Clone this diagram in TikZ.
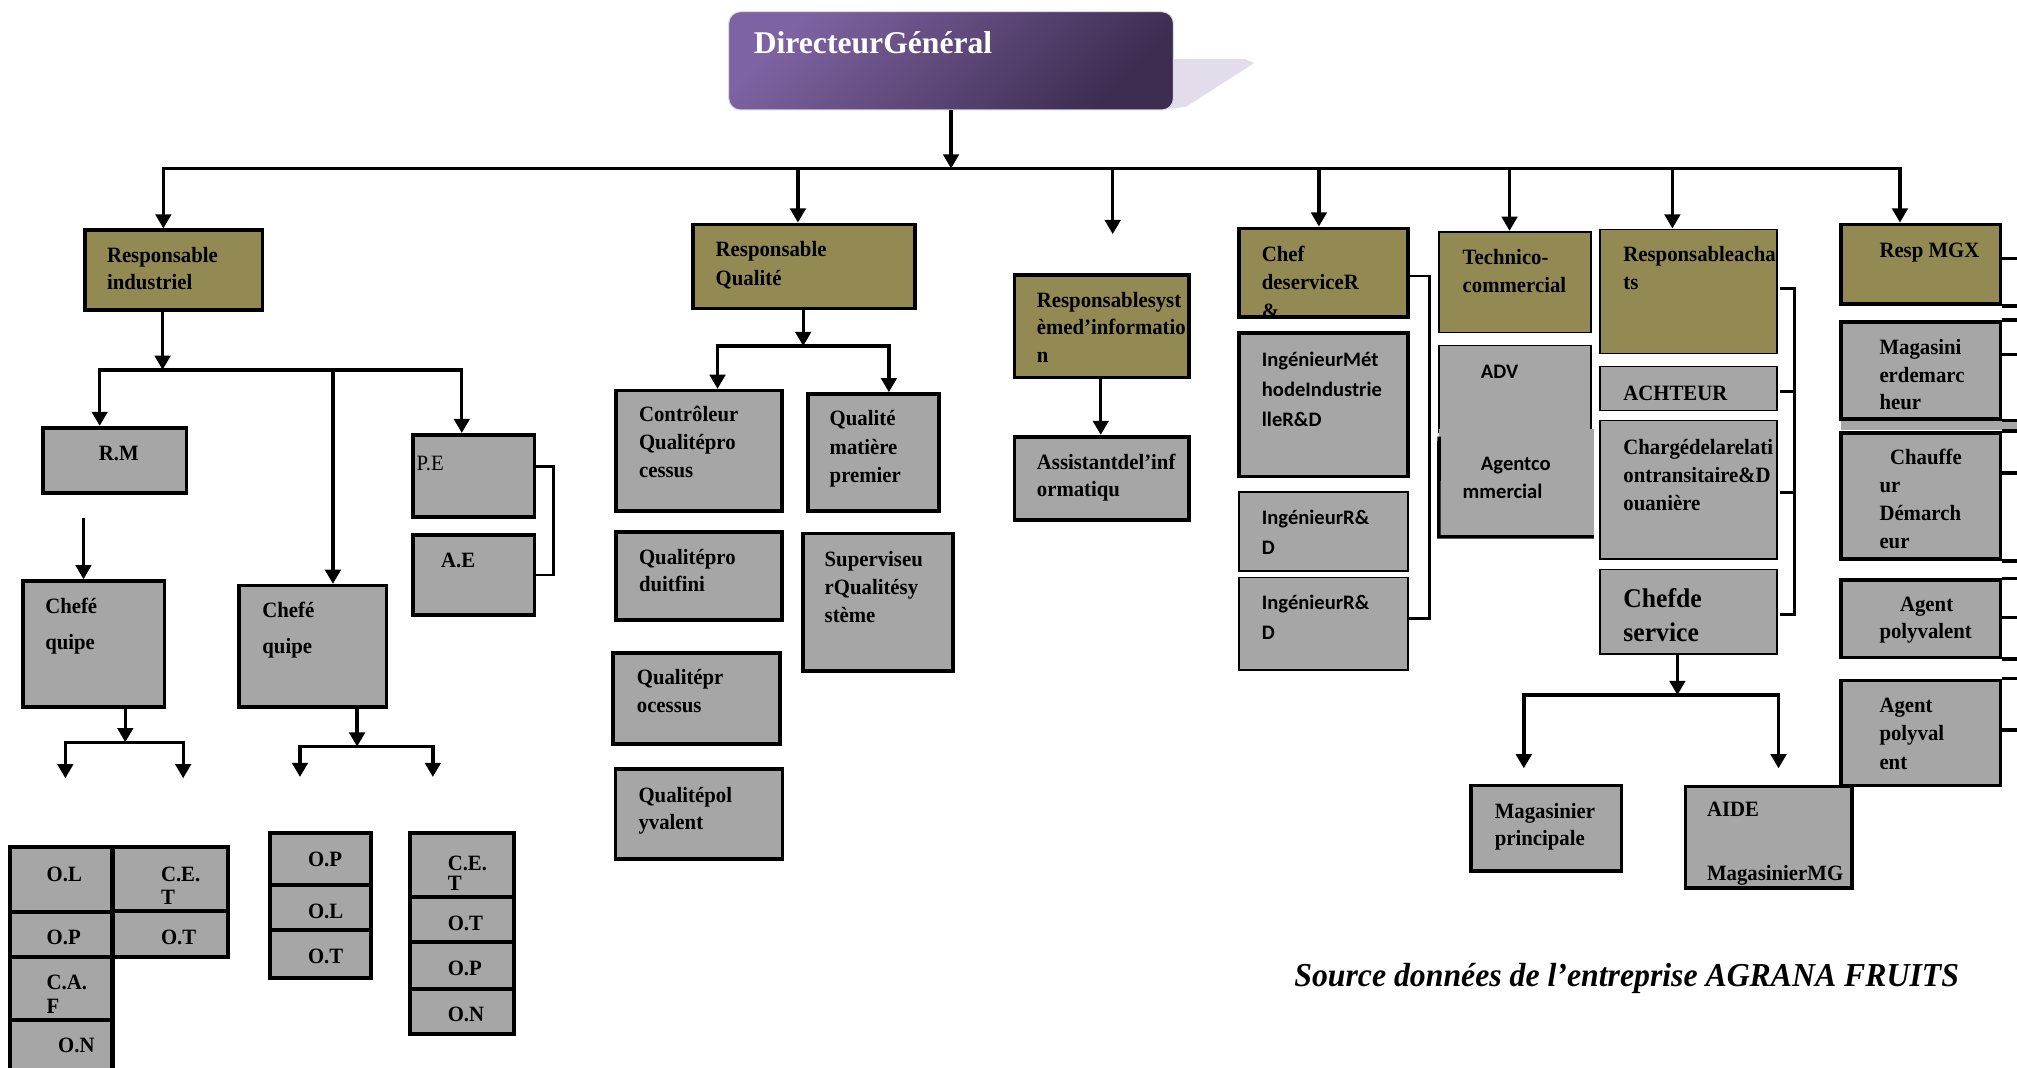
\documentclass[tikz,border=0pt]{standalone}
\usepackage{fontspec}
\setmainfont{Liberation Serif}
\newfontfamily\tnr[FakeStretch=0.95]{Liberation Serif}
\newfontfamily\calfam{Carlito}
\usetikzlibrary{arrows.meta,fit}
\definecolor{boxolive}{HTML}{938953}
\definecolor{boxgray}{HTML}{A6A6A6}
\definecolor{dirA}{HTML}{7E63A2}
\definecolor{dirB}{HTML}{3D2D50}
\definecolor{tabc}{HTML}{E2DCEB}
% stacked left-aligned lines whose baseline is the first line
\newcommand\txt[1]{\vtop{\halign{##\hfil\cr#1\crcr}}}

\begin{document}
\begin{tikzpicture}[x=1pt,y=-1pt,
  conn/.style={line width=2.6pt, line cap=rect},
  arr/.style={line width=2.6pt, -{Triangle[width=12pt,length=11pt]}},
  brk/.style={line width=2pt},
  bx/.style={inner sep=0pt, draw=black, line width=2.8pt},
  lite/.style={line width=1.3pt},
  ol/.style={bx, fill=boxolive},
  gr/.style={bx, fill=boxgray},
  tx/.style={anchor=base west, inner sep=0pt, font=\tnr\bfseries\fontsize{17}{#1}\selectfont},
  tx/.default=21.5,
  sx/.style={anchor=base west, inner sep=0pt, font=\calfam\bfseries\fontsize{16}{#1}\selectfont},
  sx/.default=23,
]
\useasboundingbox (0,0) rectangle (1568,829.5);
\fill[white] (0,0) rectangle (1568,829.5);

% ---------- Directeur General ----------
\fill[tabc] (905,46) -- (968,46) -- (975,49) -- (922,83) -- (905,85) -- cycle;
\node[fit={(566.5,9.1) (912.2,85.5)}, inner sep=0pt, rounded corners=9pt,
      top color=dirA, bottom color=dirB, shading angle=45,
      draw=white!75!dirA, line width=0.8pt] (dg) {};
\node[anchor=base west, inner sep=0pt, text=white,
      font=\bfseries\fontsize{24.6}{28}\selectfont] at (585.8,41.5) {DirecteurGénéral};

% ---------- Responsable industriel ----------
\node[ol, fit={(66,179) (204,241)}] (ri) {};
\node[tx=21.2] at (83,204.2) {\txt{Responsable\cr industriel}};
\node[gr, fit={(33.6,332.5) (145,383.4)}] (rm) {};
\node[tx] at (76.7,357.6) {R.M};
\node[gr, fit={(321,338) (415.6,402)}] (pe) {};
\node[tx, font=\tnr\mdseries\fontsize{17}{20}\selectfont] at (323.7,365.9) {P.E};
\node[gr, fit={(321,416) (415.6,478)}] (ae) {};
\node[tx] at (342.7,441) {A.E};
\node[gr, fit={(17.9,451.7) (128,549.8)}] (ce1) {};
\node[tx=28.3] at (35,476.7) {\txt{Chefé\cr quipe}};
\node[gr, fit={(186,455.3) (300.5,549.8)}] (ce2) {};
\node[tx=28.6] at (203.8,479.8) {\txt{Chefé\cr quipe}};

% team tables
\node[gr, line width=3.2pt, fit={(7.8,658.2) (87.5,709.2)}] (t1a) {};
\node[gr, line width=3.2pt, fit={(87.5,658.2) (177.1,708)}] (t1b) {};
\node[gr, line width=3.2pt, fit={(7.8,709.2) (87.5,743.7)}] (t1c) {};
\node[gr, line width=3.2pt, fit={(87.5,708) (177.1,743.7)}] (t1d) {};
\node[gr, line width=3.2pt, fit={(7.8,743.7) (87.5,792.9)}] (t1e) {};
\node[gr, line width=3.2pt, fit={(7.8,792.9) (87.5,845)}] (t1f) {};
\node[tx] at (36.1,684.9) {O.L};
\node[tx=18] at (125,684.9) {\txt{C.E.\cr T}};
\node[tx] at (36.1,734.6) {O.P};
\node[tx] at (125,734) {O.T};
\node[tx=18] at (36.1,769.6) {\txt{C.A.\cr F}};
\node[tx] at (45,818) {O.N};

\node[gr, line width=3.2pt, fit={(210.2,647.8) (288.7,688)}] (t2a) {};
\node[gr, line width=3.2pt, fit={(210.2,688) (288.7,723)}] (t2b) {};
\node[gr, line width=3.2pt, fit={(210.2,723) (288.7,760.5)}] (t2c) {};
\node[tx] at (239.3,673.7) {O.P};
\node[tx] at (239.3,713.9) {O.L};
\node[tx] at (239.3,748.9) {O.T};

\node[gr, line width=3.2pt, fit={(318.4,647.8) (399.8,697.5)}] (t3a) {};
\node[gr, line width=3.2pt, fit={(318.4,697.5) (399.8,732.5)}] (t3b) {};
\node[gr, line width=3.2pt, fit={(318.4,732.5) (399.8,769)}] (t3c) {};
\node[gr, line width=3.2pt, fit={(318.4,769) (399.8,804)}] (t3d) {};
\node[tx=15] at (347.9,677) {\txt{C.E.\cr T}};
\node[tx] at (347.9,723) {O.T};
\node[tx] at (347.9,758) {O.P};
\node[tx] at (347.9,794.2) {O.N};

% ---------- Responsable Qualite ----------
\node[ol, fit={(538.8,174.4) (711.3,239.7)}] (rq) {};
\node[tx=22.1] at (556.2,199.5) {\txt{Responsable\cr Qualité}};
\node[gr, fit={(479,303.7) (607.9,397.2)}] (ctrl) {};
\node[tx=21.8] at (496.6,327.8) {\txt{Contrôleur\cr Qualitépro\cr cessus}};
\node[gr, fit={(628.2,306.3) (729.8,397.2)}] (qmp) {};
\node[tx=22.2] at (644.8,330.9) {\txt{Qualité\cr matière\cr premier}};
\node[gr, fit={(479,413.8) (607.9,482)}] (qpf) {};
\node[tx=21.3] at (496.6,438.7) {\txt{Qualitépro\cr duitfini}};
\node[gr, fit={(624.1,414.6) (740.9,521.6)}] (sup) {};
\node[tx=22] at (640.9,440) {\txt{Superviseu\cr rQualitésy\cr stème}};
\node[gr, fit={(476.6,507.4) (606.3,578.4)}] (qpr) {};
\node[tx=21.5] at (494.9,532.5) {\txt{Qualitépr\cr ocessus}};
\node[gr, fit={(478.6,598) (608.4,667.7)}] (qpo) {};
\node[tx=21.2] at (496.2,624) {\txt{Qualitépol\cr yvalent}};

% ---------- Systeme d'information ----------
\node[ol, fit={(788.5,213.8) (924.3,293.6)}] (rsi) {};
\node[tx=21.5] at (805.9,238.9) {\txt{Responsablesyst\cr èmed’informatio\cr n}};
\node[gr, fit={(788.5,339.5) (924.3,404.2)}] (ast) {};
\node[tx=21.3] at (805.9,364.8) {\txt{Assistantdel’inf\cr ormatiqu}};

% ---------- R&D ----------
\node[ol, fit={(963,177.5) (1094.6,246.2)}] (csrd) {};
\begin{scope}
  \clip (964.4,178.9) rectangle (1093.2,244.8);
  \node[tx=22] at (980.8,203.4) {\txt{Chef\cr deserviceR\cr \&}};
\end{scope}
\node[gr, fit={(963,259.1) (1094.6,370.5)}] (ingm) {};
\node[sx=23.1] at (980.8,285) {\txt{IngénieurMét\cr hodeIndustrie\cr lleR\&D}};
\node[gr, lite, fit={(963,382.5) (1094.6,443.9)}] (ing1) {};
\node[sx=22.6] at (980.8,408.1) {\txt{IngénieurR\&\cr D}};
\node[gr, lite, fit={(963,449) (1094.6,521)}] (ing2) {};
\node[sx=23.3] at (980.8,474.2) {\txt{IngénieurR\&\cr D}};

% ---------- Technico-commercial ----------
\node[ol, lite, fit={(1118.7,180.1) (1236.9,258.6)}] (tech) {};
\node[tx=21.5] at (1136.9,206) {\txt{Technico-\cr commercial}};
\node[gr, lite, fit={(1118.7,268.7) (1236.9,336)}] (adv) {};
\node[sx] at (1151.1,294.1) {ADV};
\node[fill=boxgray, inner sep=0pt, fit={(1118.7,333.5) (1238.9,417.2)}] (agc) {};
\draw[line width=2.8pt] (1118.7,339.5) -- (agc.south west) -- (agc.south east);
\node[sx=22] at (1136.9,365.4) {\txt{\hskip14.2pt Agentco\cr mmercial}};

% ---------- Achats ----------
\node[ol, lite, fit={(1244,178.3) (1381.2,274.7)}] (ra) {};
\begin{scope}
  \clip (1244.7,179) rectangle (1380.5,274);
  \node[tx=21.5] at (1261.8,203.4) {\txt{Responsableacha\cr ts}};
\end{scope}
\node[gr, lite, fit={(1244,285) (1381.2,319.2)}] (ach) {};
\node[tx] at (1261.8,311) {ACHTEUR};
\node[gr, lite, fit={(1244,327) (1381.2,434.8)}] (chg) {};
\begin{scope}
  \clip (1244.7,327.7) rectangle (1380.5,434.1);
  \node[tx=21.4] at (1261.8,353.7) {\txt{Chargédelarelati\cr ontransitaire\&D\cr ouanière}};
\end{scope}
\node[gr, lite, fit={(1244,442.6) (1381.2,508.4)}] (chf) {};
\node[tx, font=\tnr\bfseries\fontsize{21}{26.7}\selectfont] at (1261.8,472.1) {\txt{Chefde\cr service}};
\node[gr, fit={(1143.7,610.7) (1260.4,677.1)}] (mp) {};
\node[tx=20.8] at (1161.8,636.1) {\txt{Magasinier\cr principale}};

% ---------- Moyens generaux ----------
\node[ol, fit={(1431,174.4) (1555,236.5)}] (mgx) {};
\node[tx] at (1460.9,200.1) {Resp MGX};
\node[gr, fit={(1431,250.1) (1555,325.6)}] (mag) {};
\node[tx=21.5] at (1460.9,275.5) {\txt{Magasini\cr erdemarc\cr heur}};
\fill[boxgray] (1431,327.4) rectangle (1570,334);
\node[gr, fit={(1431,336.4) (1555,434.6)}] (chau) {};
\node[tx=21.7] at (1460.9,361) {\txt{\hskip8.3pt Chauffe\cr ur\cr Démarch\cr eur}};
\node[gr, fit={(1431,450.9) (1555,511)}] (agp1) {};
\node[tx=21] at (1460.9,475.3) {\txt{\hskip16pt Agent\cr polyvalent}};
\node[gr, fit={(1431,528.9) (1555,610.6)}] (agp2) {};
\node[tx=22] at (1460.9,554) {\txt{Agent\cr polyval\cr ent}};
\node[gr, fit={(1310.3,611.5) (1439.8,690.5)}] (aide) {};
\node[tx=24.6] at (1326.8,634.9) {\txt{AIDE\cr\cr MagasinierMG}};

% lines running off to the right of the MGX column
\draw[line width=2.6pt] ([yshift=-28pt]mgx.north east) -- ++(20,0);
\draw[line width=2.6pt] (mgx.south east) -- ++(20,0);
\draw[line width=2.6pt] (mag.north east) -- ++(20,0);
\draw[line width=2.6pt] ([yshift=-26.7pt]mag.north east) -- ++(20,0);
\draw[line width=2.6pt] (mag.south east) -- ++(20,0);
\draw[line width=2.6pt] (chau.north east) -- ++(20,0);
\draw[line width=2.6pt] ([yshift=-32.7pt]chau.north east) -- ++(20,0);
\draw[line width=2.6pt] (chau.south east) -- ++(20,0);
\draw[line width=2.6pt] (agp1.north east) -- ++(20,0);
\draw[line width=2.6pt] ([yshift=-30.3pt]agp1.north east) -- ++(20,0);
\draw[line width=2.6pt] (agp1.south east) -- ++(20,0);
\draw[line width=2.6pt] (agp2.north east) -- ++(20,0);
\draw[line width=2.6pt] ([yshift=-40.1pt]agp2.north east) -- ++(20,0);

% ---------- main distribution bus ----------
\coordinate (busL) at (127,131);
\coordinate (busR) at (1477,131);
\coordinate (dQ) at (620.3,131);
\coordinate (dS) at (865,131);
\coordinate (dC) at (1025.3,131);
\coordinate (dT) at (1173.5,131);
\coordinate (dA) at (1300.1,131);
\coordinate (sEnd) at (865,182);
\draw[arr] (dg.south) -- (dg.south |- busL);
\draw[conn] (busL) -- (busR);
\draw[arr] (busL) -- (busL |- ri.north);
\draw[arr] (dQ) -- (dQ |- rq.north);
\draw[arr] (dS) -- (sEnd);
\draw[arr] (dC) -- (dC |- csrd.north);
\draw[arr] (dT) -- (dT |- tech.north);
\draw[arr] (dA) -- (dA |- ra.north);
\draw[arr] (busR) -- (busR |- mgx.north);

% ---------- industrial branch ----------
\coordinate (riA) at (126.4,287.5);
\coordinate (riL) at (77.5,287.5);
\coordinate (riM) at (258.8,287.5);
\coordinate (riR) at (359,287.5);
\draw[arr] (riA |- ri.south) -- (riA);
\draw[conn] (riL) -- (riR);
\draw[arr] (riL) -- (riL |- rm.north);
\draw[arr] (riM) -- (riM |- ce2.north);
\draw[arr] (riR) -- (riR |- pe.north);
\coordinate (rmFree) at (64.9,402.8);
\draw[arr] (rmFree) -- (rmFree |- ce1.north);
\draw[brk] ([yshift=7.2pt]pe.east) -| ([xshift=13.4pt]ae.east) -- (ae.east);

\coordinate (c1J) at (97.4,577);
\coordinate (c1L) at (50.8,577);
\coordinate (c1R) at (142.4,577);
\coordinate (c1Le) at (50.8,605);
\coordinate (c1Re) at (142.4,605);
\draw[arr] (c1J |- ce1.south) -- (c1J);
\draw[conn] (c1L) -- (c1R);
\draw[arr] (c1L) -- (c1Le);
\draw[arr] (c1R) -- (c1Re);

\coordinate (c2J) at (277.6,580.4);
\coordinate (c2L) at (233.2,580.4);
\coordinate (c2R) at (336.5,580.4);
\coordinate (c2Le) at (233.2,604);
\coordinate (c2Re) at (336.5,604);
\draw[arr] (c2J |- ce2.south) -- (c2J);
\draw[conn] (c2L) -- (c2R);
\draw[arr] (c2L) -- (c2Le);
\draw[arr] (c2R) -- (c2Re);

% ---------- quality branch ----------
\coordinate (rqA) at (624.4,269);
\coordinate (rqL) at (557.8,269);
\coordinate (rqR) at (691,269);
\draw[arr] (rqA |- rq.south) -- (rqA);
\draw[conn] (rqL) -- (rqR);
\draw[arr] (rqL) -- (rqL |- ctrl.north);
\draw[arr] (rqR) -- (rqR |- qmp.north);

% ---------- information system ----------
\coordinate (rsiA) at (855.7,300);
\draw[arr] (rsiA |- rsi.south) -- (rsiA |- ast.north);

% ---------- brackets ----------
\draw[brk] ([yshift=-2.75pt]csrd.east) -| ([xshift=15.8pt,yshift=4.3pt]ing2.east) -- ([yshift=4.3pt]ing2.east);
\draw[brk] ([xshift=2pt,yshift=2.3pt]ra.east) -| ([xshift=13.3pt,yshift=-2.1pt]chf.east) -- ([xshift=2pt,yshift=-2.1pt]chf.east);
\draw[brk] ([xshift=2pt,yshift=-2.4pt]ach.east) -- ++(11.3,0);
\draw[brk] ([xshift=2pt,yshift=-2.1pt]chg.east) -- ++(11.3,0);

% ---------- head of service branch ----------
\coordinate (chJ) at (1304,540.3);
\coordinate (chL) at (1184.6,540.3);
\coordinate (chR) at (1382.6,540.3);
\coordinate (chLe) at (1184.6,597.3);
\coordinate (chRe) at (1382.6,597.3);
\draw[arr] (chJ |- chf.south) -- (chJ);
\draw[conn] (chL) -- (chR);
\draw[arr] (chL) -- (chLe);
\draw[arr] (chR) -- (chRe);

% ---------- source ----------
\node[anchor=base west, inner sep=0pt, font=\tnr\bfseries\itshape\fontsize{26}{30}\selectfont]
  (src) at (1006,767) {Source données de l’entreprise AGRANA FRUITS};
\end{tikzpicture}
\end{document}
